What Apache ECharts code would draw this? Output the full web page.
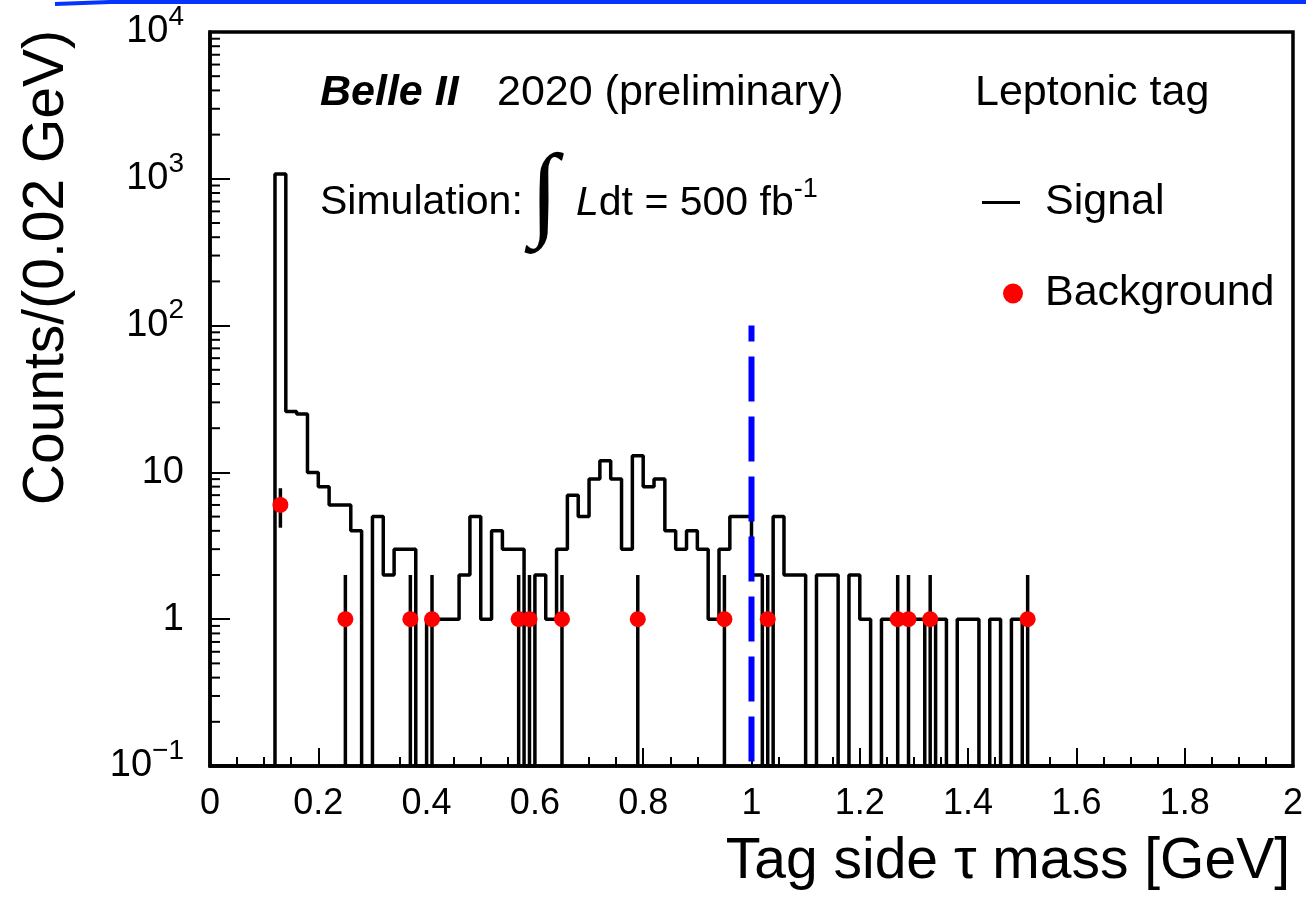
<!DOCTYPE html>
<html>
<head>
<meta charset="utf-8">
<script src="https://cdn.jsdelivr.net/npm/echarts@6/dist/echarts.min.js"></script>
<style>
html, body { margin: 0; padding: 0; background: #fff; }
#main { width: 1306px; height: 901px; }
</style>
</head>
<body>
<div id="main"></div>
<script>
// histogram binning (GeV)
const binStart = 0;
const binWidth = 0.02;
// signal counts per 0.02 GeV bin, 0 -> 2 GeV
const signalCounts = [
  0, 0, 0, 0, 0, 0, 1080, 26, 25, 10,
  8, 6, 6, 4, 0, 5, 2, 3, 3, 0,
  1, 1, 1, 2, 5, 1, 4, 3, 3, 0,
  2, 1, 3, 7, 5, 9, 12, 9, 3, 13,
  8, 9, 4, 3, 4, 3, 1, 3, 5, 5,
  2, 0, 5, 2, 2, 0, 2, 2, 0, 2,
  1, 0, 1, 1, 1, 1, 0, 1, 0, 1,
  1, 0, 1, 0, 1, 0, 0, 0, 0, 0,
  0, 0, 0, 0, 0, 0, 0, 0, 0, 0,
  0, 0, 0, 0, 0, 0, 0, 0, 0, 0
];
// background points
const bgMass = [0.13, 0.25, 0.37, 0.41, 0.57, 0.59, 0.65, 0.79, 0.95, 1.03, 1.27, 1.29, 1.33, 1.51];
const bgCounts = [6, 1, 1, 1, 1, 1, 1, 1, 1, 1, 1, 1, 1, 1];
const bgErrLow = [4.2, 0, 0, 0, 0, 0, 0, 0, 0, 0, 0, 0, 0, 0];
const bgErrHigh = [7.8, 2, 2, 2, 2, 2, 2, 2, 2, 2, 2, 2, 2, 2];
// cut line
const cutMass = 1.0;
const cutTop = 100;
// axes
const yMin = 0.1, yMax = 10000;
const yMinorTicks = [0.2, 0.3, 0.4, 0.5, 0.6, 0.7, 0.8, 0.9,
  2, 3, 4, 5, 6, 7, 8, 9, 20, 30, 40, 50, 60, 70, 80, 90,
  200, 300, 400, 500, 600, 700, 800, 900, 2000, 3000, 4000, 5000, 6000, 7000, 8000, 9000];

const FONT = '"Liberation Sans", Arial, Helvetica, sans-serif';

let chart = echarts.init(document.getElementById('main'));

// build the step outline of the histogram
let signalLine = [];
signalCounts.forEach((c, i) => {
  let lo = +(binStart + i * binWidth).toFixed(2);
  let hi = +(lo + binWidth).toFixed(2);
  let v = c > 0 ? c : yMin;
  signalLine.push([lo, v], [hi, v]);
});

let bgPoints = bgMass.map((m, i) => [m, bgCounts[i]]);
let bgBars = bgMass.map((m, i) => [m, Math.max(bgErrLow[i], yMin), bgErrHigh[i]]);

function yLabel(v) {
  if (Math.abs(v - 1) < 1e-9) return '1';
  if (Math.abs(v - 10) < 1e-9) return '10';
  let e = Math.round(Math.log10(v));
  return '{b|10}{s|' + (e < 0 ? '\u2212' + (-e) : e) + '}';
}

let option = {
  animation: false,
  backgroundColor: '#fff',
  grid: {
    left: 210, right: 13, top: 32, bottom: 135,
    show: true, borderColor: '#000', borderWidth: 3.5
  },
  xAxis: {
    type: 'value', min: 0, max: 2, interval: 0.2,
    name: 'Tag side \u03c4 mass [GeV]',
    nameLocation: 'end', nameGap: -3,
    nameTextStyle: {
      fontFamily: FONT, fontSize: 57, color: '#000',
      align: 'right', verticalAlign: 'top', padding: [68, 0, 0, 0]
    },
    axisLine: { lineStyle: { color: '#000', width: 3.5 } },
    axisTick: { inside: true, length: 18, lineStyle: { color: '#000', width: 2 } },
    minorTick: { show: true, splitNumber: 4, length: 9, lineStyle: { color: '#000', width: 2 } },
    splitLine: { show: false },
    axisLabel: { fontFamily: FONT, fontSize: 36, color: '#000', margin: 20 }
  },
  yAxis: {
    type: 'log', logBase: 10, min: yMin, max: yMax,
    name: 'Counts/(0.02 GeV)',
    nameLocation: 'end', nameRotate: 90, nameGap: 2,
    nameTextStyle: {
      fontFamily: FONT, fontSize: 57, color: '#000',
      align: 'right', verticalAlign: 'bottom', padding: [0, 0, 134, 0]
    },
    axisLine: { lineStyle: { color: '#000', width: 3.5 } },
    axisTick: { inside: true, length: 20, lineStyle: { color: '#000', width: 2 } },
    splitLine: { show: false },
    axisLabel: {
      fontFamily: FONT, fontSize: 38, color: '#000', margin: 26,
      formatter: yLabel,
      rich: {
        b: { fontFamily: FONT, fontSize: 38, lineHeight: 58, color: '#000' },
        s: { fontFamily: FONT, fontSize: 28, lineHeight: 28, verticalAlign: 'top', color: '#000' }
      }
    }
  },
  legend: [
    {
      data: [{ name: 'Signal', icon: 'rect' }],
      left: 982, top: 181, padding: 0,
      itemWidth: 38, itemHeight: 3, selectedMode: false,
      textStyle: { fontFamily: FONT, fontSize: 43, color: '#000', padding: [0, 0, 0, 20] }
    },
    {
      data: [{ name: 'Background', icon: 'circle' }],
      left: 1003, top: 272, padding: 0,
      itemWidth: 20, itemHeight: 20, selectedMode: false,
      itemStyle: { opacity: 1 },
      textStyle: { fontFamily: FONT, fontSize: 43, color: '#000', padding: [0, 0, 0, 17] }
    }
  ],
  graphic: [
    { type: 'polyline', shape: { points: [[55, 4], [110, 2], [1306, 2]] },
      style: { stroke: '#0533ff', lineWidth: 4, fill: null } },
    { type: 'text', x: 320, y: 93,
      style: { text: 'Belle II', font: 'italic bold 43px ' + FONT, fill: '#000', verticalAlign: 'middle' } },
    { type: 'text', x: 497, y: 93,
      style: { text: '2020 (preliminary)', font: '43px ' + FONT, fill: '#000', verticalAlign: 'middle' } },
    { type: 'text', x: 975, y: 93,
      style: { text: 'Leptonic tag', font: '43px ' + FONT, fill: '#000', verticalAlign: 'middle' } },
    { type: 'text', x: 320, y: 203,
      style: { text: 'Simulation:', font: '41px ' + FONT, fill: '#000', verticalAlign: 'middle' } },
    { type: 'text', x: 530, y: 199,
      style: { text: '\u222b', font: '104px "Liberation Serif", serif', fill: '#000', verticalAlign: 'middle' } },
    { type: 'text', x: 576, y: 204,
      style: {
        text: '{i|L}dt = 500 fb{s|-1}', font: '41px ' + FONT, fill: '#000', verticalAlign: 'middle',
        rich: {
          i: { fontFamily: FONT, fontSize: 41, fontStyle: 'italic', lineHeight: 56 },
          s: { fontFamily: FONT, fontSize: 27, lineHeight: 27, verticalAlign: 'top' }
        }
      } }
  ],
  series: [
    {
      name: 'Signal', type: 'line', data: signalLine,
      showSymbol: false, symbol: 'none', z: 3,
      itemStyle: { color: '#000' },
      lineStyle: { color: '#000', width: 3.5 }
    },
    {
      name: 'cut', type: 'line', data: [[cutMass, cutTop], [cutMass, yMin]],
      showSymbol: false, symbol: 'none', z: 6,
      lineStyle: { color: '#0000ff', width: 6, type: [45, 15], dashOffset: 29 }
    },
    {
      name: 'yMinorTicks', type: 'custom', z: 2, silent: true,
      data: yMinorTicks.map(v => [0, v]),
      renderItem: function (params, api) {
        let p = api.coord([api.value(0), api.value(1)]);
        return { type: 'line', shape: { x1: p[0], y1: p[1], x2: p[0] + 10, y2: p[1] },
          style: { stroke: '#000', lineWidth: 2 } };
      }
    },
    {
      name: 'bgErr', type: 'custom', z: 4, silent: true,
      data: bgBars,
      renderItem: function (params, api) {
        let p1 = api.coord([api.value(0), api.value(1)]);
        let p2 = api.coord([api.value(0), api.value(2)]);
        return { type: 'line', shape: { x1: p1[0], y1: p1[1], x2: p2[0], y2: p2[1] },
          style: { stroke: '#000', lineWidth: 3.5 } };
      }
    },
    {
      name: 'Background', type: 'scatter', data: bgPoints,
      symbol: 'circle', symbolSize: 16, z: 5,
      itemStyle: { color: '#ff0000', opacity: 1 }
    }
  ]
};
chart.setOption(option);
</script>
</body>
</html>
